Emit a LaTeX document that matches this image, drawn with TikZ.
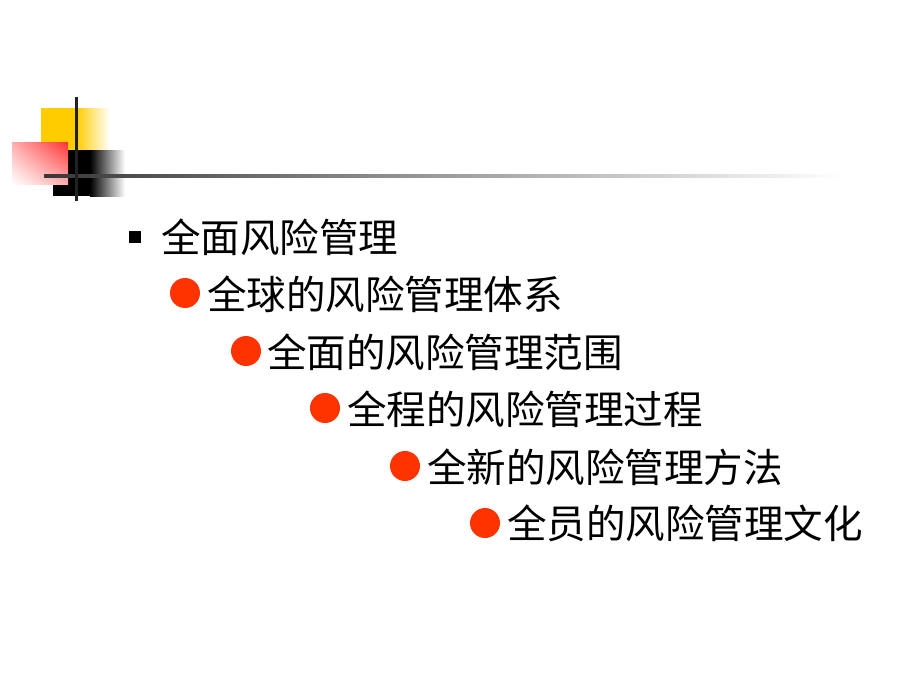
\documentclass[tikz,border=0pt]{standalone}
\usepackage{fontspec}
\newfontfamily\cjk{Noto Sans CJK SC}
\usepackage{tikz}
\usetikzlibrary{shadings}
\definecolor{dotred}{HTML}{FF3300}
\definecolor{barred}{HTML}{FF3333}
\definecolor{baryellow}{HTML}{FFCC00}
\definecolor{bargray}{HTML}{222222}

\begin{document}
\begin{tikzpicture}[x={(0.02667cm,0)},y={(0,-0.02667cm)},
  item/.style={anchor=west,inner sep=0pt,font=\cjk\fontsize{30}{32}\selectfont},
  dot/.style={circle,fill=dotred,inner sep=0pt,minimum size=0.8cm},
  box/.style={fill=black,inner sep=0pt,minimum size=0.3cm}]
  \useasboundingbox (0,0) rectangle (900,675);
  % corner logo
  \fill[baryellow] (41,108) rectangle (76,150);
  \shade[left color=baryellow,right color=white] (76,108) rectangle (110,150);
  \fill[black] (53,150) rectangle (90,196);
  \shade[left color=black,right color=white] (90,150) rectangle (125,196);
  \shade[upper right=barred,lower left=white,upper left=barred!40!white,lower right=barred!40!white] (12,142) rectangle (68,184);
  \shade[left color=bargray!90,right color=white] (44,174.5) rectangle (843,177.5);
  \fill[bargray] (74.5,97) rectangle (77.5,201);

  \node[box] (b1) at (135,237) {};
  \node[item] (t1) at (161,237) {全面风险管理};

  \node[dot] (d2) at (185,293) {};
  \node[item] (t2) at (207,294) {全球的风险管理体系};
  \node[dot] (d3) at (246,351) {};
  \node[item] (t3) at (267,352) {全面的风险管理范围};
  \node[dot] (d4) at (325,408) {};
  \node[item] (t4) at (347,409) {全程的风险管理过程};
  \node[dot] (d5) at (405,466) {};
  \node[item] (t5) at (427,467) {全新的风险管理方法};
  \node[dot] (d6) at (485,523) {};
  \node[item] (t6) at (507,523) {全员的风险管理文化};

\end{tikzpicture}
\end{document}
